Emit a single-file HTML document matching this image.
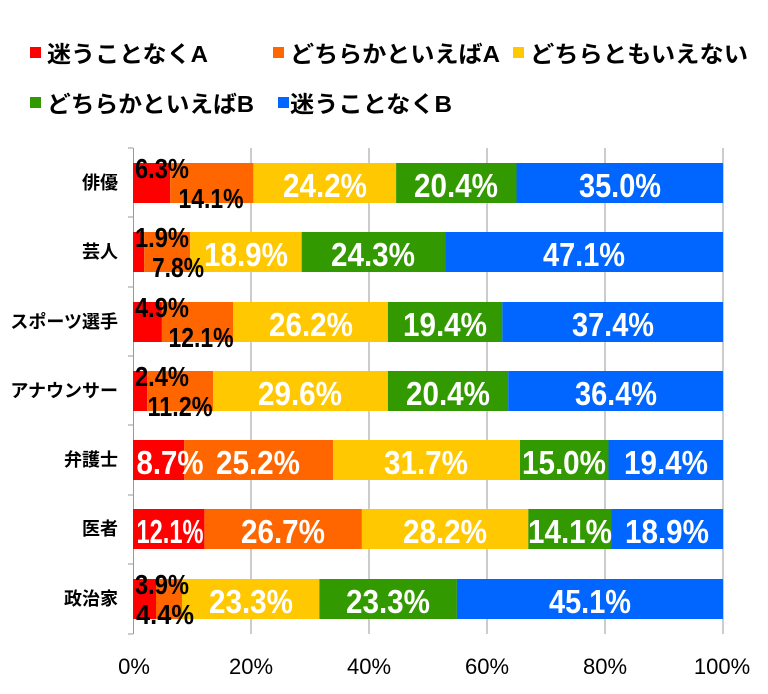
<!DOCTYPE html>
<html><head><meta charset="utf-8"><style>
body{margin:0;background:#fff;}
svg{display:block;font-family:"Liberation Sans","Noto Sans CJK JP",sans-serif;}
.w{fill:#fff;font-weight:bold;font-size:33px;text-anchor:middle;}
.b{fill:#000;font-weight:bold;font-size:28px;text-anchor:middle;}
.c{fill:#000;font-weight:bold;font-size:18px;text-anchor:end;}
.x{fill:#000;font-size:22px;text-anchor:middle;}
.l{fill:#000;font-weight:bold;font-size:23px;}
</style></head><body>
<svg width="768" height="694" viewBox="0 0 768 694">
<!-- legend -->
<rect x="30" y="47" width="11" height="11" fill="#f00"/><text class="l" x="47" y="62" textLength="161" lengthAdjust="spacingAndGlyphs">迷うことなくA</text>
<rect x="273" y="47" width="11" height="11" fill="#ff6600"/><text class="l" x="290" y="62" textLength="210" lengthAdjust="spacingAndGlyphs">どちらかといえばA</text>
<rect x="513" y="47" width="11" height="11" fill="#ffc800"/><text class="l" x="530" y="62" textLength="218" lengthAdjust="spacingAndGlyphs">どちらともいえない</text>
<rect x="30" y="97" width="11" height="11" fill="#339900"/><text class="l" x="47" y="112" textLength="207" lengthAdjust="spacingAndGlyphs">どちらかといえばB</text>
<rect x="278" y="97" width="11" height="11" fill="#0066ff"/><text class="l" x="290" y="112" textLength="162" lengthAdjust="spacingAndGlyphs">迷うことなくB</text>
<!-- grid -->
<g stroke="#999" stroke-width="1">
<line x1="251" y1="148" x2="251" y2="634"/><line x1="369" y1="148" x2="369" y2="634"/>
<line x1="487" y1="148" x2="487" y2="634"/><line x1="605" y1="148" x2="605" y2="634"/>
<line x1="723" y1="148" x2="723" y2="634"/>
<line x1="133.5" y1="148" x2="133.5" y2="634"/>
<line x1="128" y1="148" x2="133" y2="148"/><line x1="128" y1="217" x2="133" y2="217"/>
<line x1="128" y1="287" x2="133" y2="287"/><line x1="128" y1="356" x2="133" y2="356"/>
<line x1="128" y1="425" x2="133" y2="425"/><line x1="128" y1="495" x2="133" y2="495"/>
<line x1="128" y1="564" x2="133" y2="564"/><line x1="128" y1="634" x2="133" y2="634"/>
</g>
<!-- bars -->
<g>
<rect x="133" y="163" width="37.2" height="40" fill="#f00"/><rect x="170.2" y="163" width="83.2" height="40" fill="#ff6600"/><rect x="253.4" y="163" width="142.7" height="40" fill="#ffc800"/><rect x="396.1" y="163" width="120.4" height="40" fill="#339900"/><rect x="516.5" y="163" width="206.5" height="40" fill="#0066ff"/>
<rect x="133" y="232" width="11.2" height="40" fill="#f00"/><rect x="144.2" y="232" width="46" height="40" fill="#ff6600"/><rect x="190.2" y="232" width="111.5" height="40" fill="#ffc800"/><rect x="301.7" y="232" width="143.4" height="40" fill="#339900"/><rect x="445.1" y="232" width="277.9" height="40" fill="#0066ff"/>
<rect x="133" y="302" width="28.9" height="40" fill="#f00"/><rect x="161.9" y="302" width="71.4" height="40" fill="#ff6600"/><rect x="233.3" y="302" width="154.6" height="40" fill="#ffc800"/><rect x="387.9" y="302" width="114.4" height="40" fill="#339900"/><rect x="502.3" y="302" width="220.7" height="40" fill="#0066ff"/>
<rect x="133" y="371" width="14.2" height="40" fill="#f00"/><rect x="147.2" y="371" width="66" height="40" fill="#ff6600"/><rect x="213.2" y="371" width="174.7" height="40" fill="#ffc800"/><rect x="387.9" y="371" width="120.3" height="40" fill="#339900"/><rect x="508.2" y="371" width="214.8" height="40" fill="#0066ff"/>
<rect x="133" y="440" width="51.3" height="40" fill="#f00"/><rect x="184.3" y="440" width="148.7" height="40" fill="#ff6600"/><rect x="333" y="440" width="187" height="40" fill="#ffc800"/><rect x="520" y="440" width="88.5" height="40" fill="#339900"/><rect x="608.5" y="440" width="114.5" height="40" fill="#0066ff"/>
<rect x="133" y="509" width="71.4" height="40" fill="#f00"/><rect x="204.4" y="509" width="157.5" height="40" fill="#ff6600"/><rect x="361.9" y="509" width="166.4" height="40" fill="#ffc800"/><rect x="528.3" y="509" width="83.2" height="40" fill="#339900"/><rect x="611.5" y="509" width="111.5" height="40" fill="#0066ff"/>
<rect x="133" y="579" width="23" height="40" fill="#f00"/><rect x="156" y="579" width="26" height="40" fill="#ff6600"/><rect x="182" y="579" width="137.4" height="40" fill="#ffc800"/><rect x="319.4" y="579" width="137.5" height="40" fill="#339900"/><rect x="456.9" y="579" width="266.1" height="40" fill="#0066ff"/>
</g>
<!-- category labels -->
<text class="c" x="118" y="189">俳優</text>
<text class="c" x="118" y="258">芸人</text>
<text class="c" x="118" y="328">スポーツ選手</text>
<text class="c" x="118" y="397">アナウンサー</text>
<text class="c" x="118" y="466">弁護士</text>
<text class="c" x="118" y="535">医者</text>
<text class="c" x="118" y="605">政治家</text>
<!-- white labels -->
<g class="w">
<text x="325" y="197" textLength="84" lengthAdjust="spacingAndGlyphs">24.2%</text>
<text x="456" y="197" textLength="84" lengthAdjust="spacingAndGlyphs">20.4%</text>
<text x="620" y="197" textLength="82" lengthAdjust="spacingAndGlyphs">35.0%</text>
<text x="246" y="266" textLength="84" lengthAdjust="spacingAndGlyphs">18.9%</text>
<text x="373" y="266" textLength="84" lengthAdjust="spacingAndGlyphs">24.3%</text>
<text x="584" y="266" textLength="82" lengthAdjust="spacingAndGlyphs">47.1%</text>
<text x="311" y="336" textLength="84" lengthAdjust="spacingAndGlyphs">26.2%</text>
<text x="445" y="336" textLength="84" lengthAdjust="spacingAndGlyphs">19.4%</text>
<text x="613" y="336" textLength="82" lengthAdjust="spacingAndGlyphs">37.4%</text>
<text x="300" y="405" textLength="84" lengthAdjust="spacingAndGlyphs">29.6%</text>
<text x="448" y="405" textLength="84" lengthAdjust="spacingAndGlyphs">20.4%</text>
<text x="616" y="405" textLength="82" lengthAdjust="spacingAndGlyphs">36.4%</text>
<text x="170" y="474" textLength="67" lengthAdjust="spacingAndGlyphs">8.7%</text>
<text x="258" y="474" textLength="84" lengthAdjust="spacingAndGlyphs">25.2%</text>
<text x="426" y="474" textLength="84" lengthAdjust="spacingAndGlyphs">31.7%</text>
<text x="564" y="474" textLength="84" lengthAdjust="spacingAndGlyphs">15.0%</text>
<text x="666" y="474" textLength="84" lengthAdjust="spacingAndGlyphs">19.4%</text>
<text x="170" y="543" textLength="67" lengthAdjust="spacingAndGlyphs">12.1%</text>
<text x="283" y="543" textLength="84" lengthAdjust="spacingAndGlyphs">26.7%</text>
<text x="445" y="543" textLength="84" lengthAdjust="spacingAndGlyphs">28.2%</text>
<text x="570" y="543" textLength="84" lengthAdjust="spacingAndGlyphs">14.1%</text>
<text x="667" y="543" textLength="84" lengthAdjust="spacingAndGlyphs">18.9%</text>
<text x="251" y="613" textLength="84" lengthAdjust="spacingAndGlyphs">23.3%</text>
<text x="388" y="613" textLength="84" lengthAdjust="spacingAndGlyphs">23.3%</text>
<text x="590" y="613" textLength="82" lengthAdjust="spacingAndGlyphs">45.1%</text>
</g>
<!-- black labels -->
<g class="b">
<text x="162" y="178" textLength="54" lengthAdjust="spacingAndGlyphs">6.3%</text>
<text x="211" y="208" textLength="65" lengthAdjust="spacingAndGlyphs">14.1%</text>
<text x="162" y="247" textLength="54" lengthAdjust="spacingAndGlyphs">1.9%</text>
<text x="178" y="277" textLength="52" lengthAdjust="spacingAndGlyphs">7.8%</text>
<text x="162" y="317" textLength="54" lengthAdjust="spacingAndGlyphs">4.9%</text>
<text x="201" y="347" textLength="65" lengthAdjust="spacingAndGlyphs">12.1%</text>
<text x="162" y="386" textLength="54" lengthAdjust="spacingAndGlyphs">2.4%</text>
<text x="180" y="416" textLength="65" lengthAdjust="spacingAndGlyphs">11.2%</text>
<text x="162" y="594" textLength="54" lengthAdjust="spacingAndGlyphs">3.9%</text>
<text x="165" y="624" textLength="58" lengthAdjust="spacingAndGlyphs">4.4%</text>
</g>
<!-- x axis -->
<g class="x">
<text x="134" y="674">0%</text><text x="251" y="674">20%</text><text x="369" y="674">40%</text>
<text x="487" y="674">60%</text><text x="605" y="674">80%</text><text x="722" y="674">100%</text>
</g>
</svg>
</body></html>
